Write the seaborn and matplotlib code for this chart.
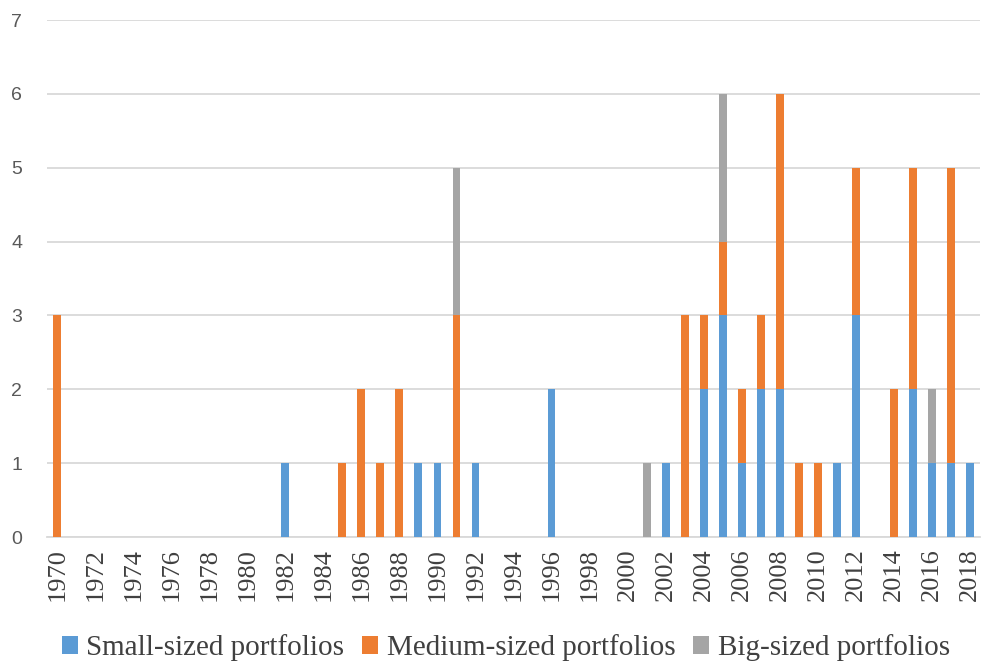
import matplotlib
matplotlib.use("Agg")
import matplotlib.pyplot as plt
import numpy as np
import pandas as pd
import seaborn as sns
from matplotlib.patches import Patch

# Number of studies per year, by portfolio size
years = list(range(1970, 2019))

small_years = [1982, 1989, 1990, 1992, 1996, 2002, 2004, 2005, 2006, 2007,
               2008, 2011, 2012, 2015, 2016, 2017, 2018]
small_counts = [1, 1, 1, 1, 2, 1, 2, 3, 1, 2, 2, 1, 3, 2, 1, 1, 1]

medium_years = [1970, 1985, 1986, 1987, 1988, 1991, 2003, 2004, 2005, 2006,
                2007, 2008, 2009, 2010, 2012, 2014, 2015, 2017]
medium_counts = [3, 1, 2, 1, 2, 3, 3, 1, 1, 1, 1, 4, 1, 1, 2, 2, 3, 4]

big_years = [1991, 2001, 2005, 2016]
big_counts = [2, 1, 2, 1]

series_names = ["Small-sized portfolios", "Medium-sized portfolios", "Big-sized portfolios"]
colors = ["#5B9BD5", "#ED7D31", "#A5A5A5"]


def full_series(yrs, counts):
    s = pd.Series(counts, index=yrs)
    return s.reindex(years, fill_value=0).to_numpy()


small = full_series(small_years, small_counts)
medium = full_series(medium_years, medium_counts)
big = full_series(big_years, big_counts)

df = pd.DataFrame({
    "year": [str(y) for y in years],
    "small": small,
    "small_medium": small + medium,
    "total": small + medium + big,
})

sns.set_theme(style="white")
fig = plt.figure(figsize=(9.82, 6.63), dpi=100)
ax = fig.add_axes([47 / 982, 1 - 537 / 663, (980 - 47) / 982, (537 - 20) / 663])

order = df["year"].tolist()
# stacked bars drawn as cumulative layers, tallest first
for col, color in zip(["total", "small_medium", "small"], colors[::-1]):
    sns.barplot(data=df, x="year", y=col, order=order, color=color,
                width=0.42, saturation=1, ax=ax, linewidth=0, zorder=3)

ax.set_ylim(0, 7)
ax.set_xlim(-0.55, len(years) - 0.45)
ax.set_yticks(range(0, 8))
ax.set_xticks(range(0, len(years), 2))
ax.set_xticklabels([str(y) for y in years[::2]], rotation=90,
                   fontfamily="Liberation Serif", fontsize=19, color="#404040")
for lbl in ax.get_yticklabels():
    lbl.set_fontfamily("Liberation Sans")
    lbl.set_fontsize(14)
    lbl.set_color("#595959")
ax.tick_params(axis="both", length=0)
ax.tick_params(axis="y", pad=18)
ax.tick_params(axis="x", pad=8)
ax.set_xlabel("")
ax.set_ylabel("")

ax.yaxis.grid(True, color="#D9D9D9", linewidth=1.3, zorder=0)
ax.xaxis.grid(False)
ax.set_axisbelow(True)
for side in ["top", "right", "left"]:
    ax.spines[side].set_visible(False)
ax.spines["bottom"].set_color("#D9D9D9")
ax.spines["bottom"].set_linewidth(1.3)

handles = [Patch(facecolor=c, edgecolor="none") for c in colors]
fig.legend(handles, series_names, loc="center", bbox_to_anchor=(0.515, 1 - 648 / 663),
           ncol=3, frameon=False, handlelength=0.55, handleheight=0.55,
           handletextpad=0.3, columnspacing=0.6,
           prop={"family": "Liberation Serif", "size": 21})
for t in fig.legends[0].get_texts():
    t.set_color("#404040")

fig.savefig("out.png", dpi=100)
